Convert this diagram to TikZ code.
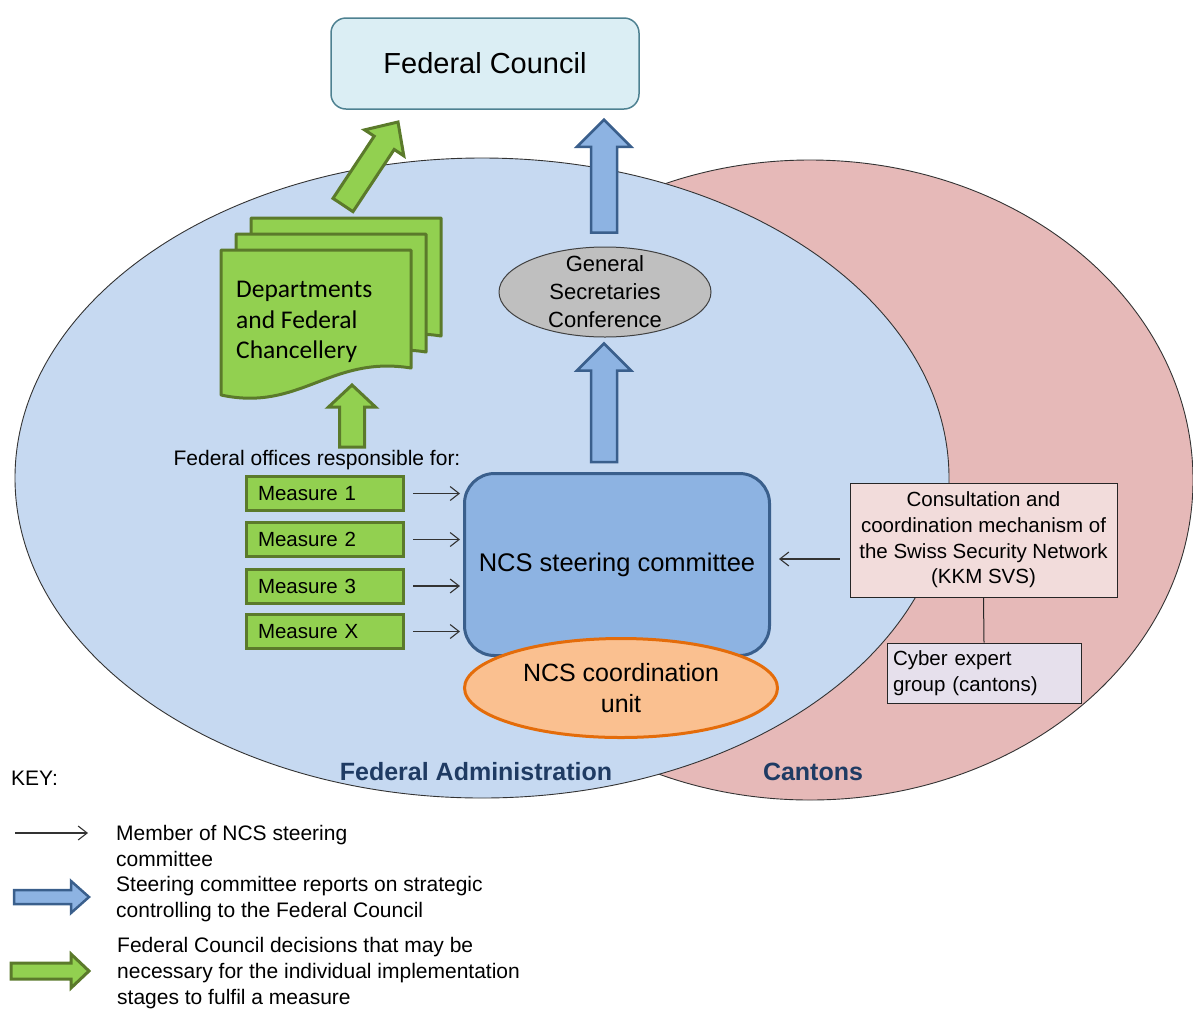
\documentclass[tikz,border=0pt]{standalone}
\usepackage{fontspec}
\setmainfont{Liberation Sans}
\newfontfamily\calfont{Carlito}
\usetikzlibrary{calc,arrows.meta,shapes.geometric}
\definecolor{fcfill}{HTML}{DBEEF4}
\definecolor{fcdraw}{HTML}{4E8191}
\definecolor{bluefill}{HTML}{C6D9F1}
\definecolor{pinkfill}{HTML}{E6B9B8}
\definecolor{gfill}{HTML}{92D050}
\definecolor{gdraw}{HTML}{5B7A2B}
\definecolor{bfill}{HTML}{8DB3E2}
\definecolor{bdraw}{HTML}{3A5F8C}
\definecolor{ofill}{HTML}{FAC090}
\definecolor{odraw}{HTML}{E46C0A}
\definecolor{gsfill}{HTML}{BFBFBF}
\definecolor{kkmfill}{HTML}{F2DCDB}
\definecolor{cybfill}{HTML}{E6E0EC}
\definecolor{navy}{HTML}{1F3B63}

\newcommand\mkblockarrow[6]{%
  \coordinate (ba-h) at ($(#3)!#6!(#2)$);
  \draw[#1] ($(#2)!#4!90:(#3)$) -- ($(ba-h)!#4!90:(#3)$) -- ($(ba-h)!#5!90:(#3)$) -- (#3)
    -- ($(ba-h)!#5!-90:(#3)$) -- ($(ba-h)!#4!-90:(#3)$) -- ($(#2)!#4!-90:(#3)$) -- cycle;
}
\newcommand\mkdoc[1]{%
  \draw[docstyle] (#1) -- ++(190,0) -- ++(0,118)
    .. controls +(-81,-13) and +(79,17) .. ++(-190,27) -- cycle;
}

\tikzset{
  txt/.style={font=\fontsize{21}{26}\selectfont, inner sep=0pt, align=left},
  fcbox/.style={draw=fcdraw, fill=fcfill, line width=1.5pt, rounded corners=15pt,
    minimum width=308pt, minimum height=91pt, inner sep=0pt, font=\fontsize{29}{34}\selectfont},
  docstyle/.style={draw=gdraw, fill=gfill, line width=3pt, line join=round},
  depttext/.style={font=\calfont\fontsize{25.5}{30.5}\selectfont, align=left, inner sep=0pt},
  garrow/.style={draw=gdraw, fill=gfill, line width=3pt},
  barrow/.style={draw=bdraw, fill=bfill, line width=2.5pt},
  measure/.style={draw=gdraw, fill=gfill, line width=3pt, minimum width=157pt, minimum height=34pt,
    inner xsep=11.5pt, inner ysep=0pt, text width=134pt, align=left, font=\fontsize{20.5}{24}\selectfont},
  steerbox/.style={draw=bdraw, fill=bfill, line width=3pt, rounded corners=30pt,
    minimum width=305pt, minimum height=182pt, inner sep=0pt, font=\fontsize{25.5}{30}\selectfont},
  coordell/.style={ellipse, draw=odraw, fill=ofill, line width=3pt, minimum width=313pt,
    minimum height=99pt, inner sep=0pt, align=center, font=\fontsize{25}{31}\selectfont},
  gscell/.style={ellipse, draw=black!75, fill=gsfill, line width=1pt, minimum width=212pt,
    minimum height=90pt, inner sep=0pt},
  gsctxt/.style={align=center, inner sep=0pt, font=\fontsize{22}{28}\selectfont},
  kkmbox/.style={draw=black!85, fill=kkmfill, line width=1pt, minimum width=267pt,
    minimum height=114pt, inner sep=0pt, align=center, font=\fontsize{20.5}{25.7}\selectfont},
  cybbox/.style={draw=black!85, fill=cybfill, line width=1pt, minimum width=194pt,
    minimum height=60pt, inner xsep=6pt, inner ysep=0pt, text width=182pt, align=left,
    font=\fontsize{20.5}{26}\selectfont},
  lbl/.style={font=\bfseries\fontsize{25}{30}\selectfont, text=navy, inner sep=0pt},
  thinarr/.style={draw=black!80, line width=1.1pt, -{Straight Barb[length=9pt,width=14pt]}},
  bigell/.style={ellipse, draw=black!80, line width=0.9pt, inner sep=0pt}
}

\begin{document}
\begin{tikzpicture}[x=1pt,y=-1pt]
\useasboundingbox (0,0) rectangle (1193,1010);

% regions
\node[bigell, fill=pinkfill, minimum width=766pt, minimum height=640pt] (cantons) at (810,480) {};
\node[bigell, fill=bluefill, minimum width=934pt, minimum height=640pt] (fedadm) at (482,478) {};
\node[lbl] (fatext) at (476,772) {Federal Administration};
\node[lbl] (cantext) at (813,772) {Cantons};

% Federal Council
\node[fcbox] (fc) at (485,63.5) {Federal Council};

% departments stack
\mkdoc{251,218}
\mkdoc{236,234}
\mkdoc{221,250}
\node[depttext, anchor=west] (dept) at (236,322) {Departments\\and Federal\\Chancellery};

% green arrows
\coordinate (gd-tail) at (343,205);
\coordinate (gd-tip) at (398,122);
\mkblockarrow{garrow}{gd-tail}{gd-tip}{12pt}{23.5pt}{25pt}

\node[txt] (offices) at (317,460) {Federal offices responsible for:};
\coordinate (gu-tail) at (352,447);
\coordinate (gu-tip) at (352,385);
\mkblockarrow{garrow}{gu-tail}{gu-tip}{12.5pt}{23.5pt}{22pt}

% GSC
\node[gscell] (gsc) at (605,292) {};
\node[gsctxt] (gsctext) at (gsc.center) {General\\Secretaries\\Conference};

% steering + coordination
\node[steerbox] (steer) at (617,564.5) {NCS steering committee};
\node[coordell] (coord) at (621,688) {NCS coordination\\unit};

% blue arrows
\coordinate (b1-tail) at ($(gsc.north)+(-1,-14)$);
\coordinate (b1-tip) at ($(gsc.north |- fc.south)+(-1,10)$);
\mkblockarrow{barrow}{b1-tail}{b1-tip}{13pt}{27pt}{27pt}
\coordinate (b2-tail) at ($(gsc.south |- steer.north)+(-1,-10)$);
\coordinate (b2-tip) at ($(gsc.south)+(-1,6)$);
\mkblockarrow{barrow}{b2-tail}{b2-tip}{13pt}{27pt}{27pt}

% measures
\node[measure] (m1) at (325,493.5) {Measure 1};
\node[measure] (m2) at (325,539.5) {Measure 2};
\node[measure] (m3) at (325,586) {Measure 3};
\node[measure] (mX) at (325,631.5) {Measure X};
\foreach \m in {m1,m2,m3,mX}
  \draw[thinarr] ($(\m.east)+(8,0)$) -- ($(\m.east -| steer.west)+(-3,0)$);

% cantons side
\node[kkmbox] (kkm) at (983.5,540) {Consultation and\\coordination mechanism of\\the Swiss Security Network\\(KKM SVS)};
\node[cybbox] (cyber) at (984,673) {Cyber expert\\group (cantons)};
\draw[black!85, line width=1pt] (kkm.south) -- (cyber.north);
\coordinate (ka) at ($(kkm.west)+(-10,19)$);
\draw[thinarr] (ka) -- ($(ka -| steer.east)+(8,0)$);

% key
\node[txt, anchor=west] (key) at (11,778) {KEY:};
\coordinate (k1a) at (15,833);
\coordinate (k1b) at (88,833);
\draw[thinarr] (k1a) -- (k1b);
\node[txt, anchor=west] (k1t) at (116,845.5) {Member of NCS steering\\committee};
\coordinate (k2a) at (14,897);
\coordinate (k2b) at (89,897);
\mkblockarrow{barrow}{k2a}{k2b}{7pt}{16pt}{18pt}
\node[txt, anchor=west] (k2t) at (116,899) {Steering committee reports on strategic\\controlling to the Federal Council};
\coordinate (k3a) at (11,971);
\coordinate (k3b) at (89,971);
\mkblockarrow{garrow}{k3a}{k3b}{8pt}{17pt}{18pt}
\node[txt, anchor=west] (k3t) at (117,973) {Federal Council decisions that may be\\necessary for the individual implementation\\stages to fulfil a measure};
\end{tikzpicture}
\end{document}
